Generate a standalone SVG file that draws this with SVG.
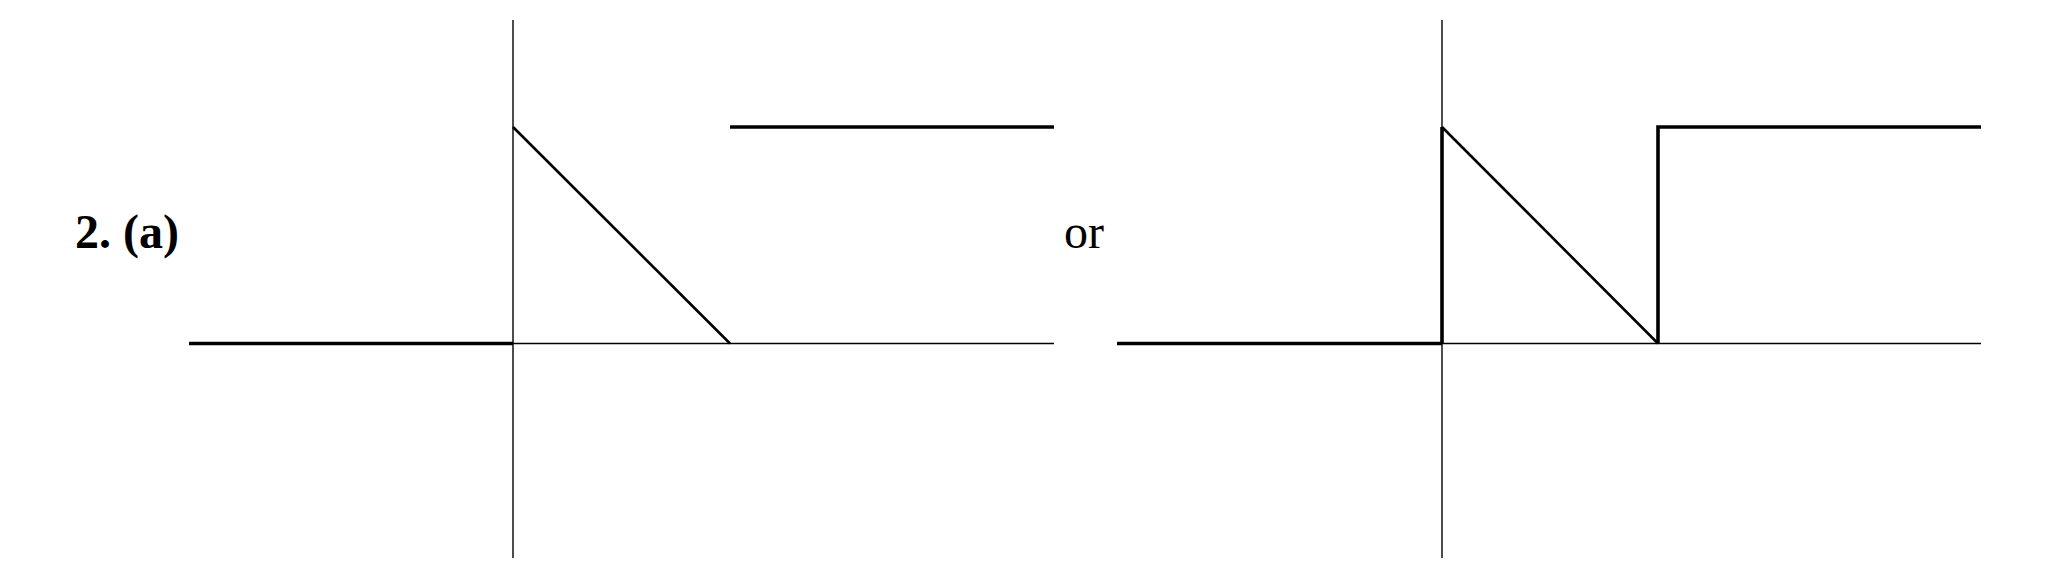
<svg xmlns="http://www.w3.org/2000/svg" width="2059" height="573" viewBox="0 0 2059 573">
<style>
.axis{stroke:#000;stroke-width:1.4;fill:none}
.thick{stroke:#000;stroke-width:3.6;fill:none;stroke-linecap:butt}
.diag{stroke:#000;stroke-width:2.6;fill:none}
.lbl{font-family:"Liberation Serif","Times New Roman",serif;font-size:48px;fill:#000}
</style>
<rect width="2059" height="573" fill="#fff"/>
<g id="label-2a"><text class="lbl" x="75" y="248" font-weight="bold">2. (a)</text></g>
<g id="label-or"><text class="lbl" x="1064" y="248">or</text></g>
<g id="plot1">
<line class="axis" x1="513" y1="20" x2="513" y2="558"/>
<line class="axis" x1="513" y1="343.5" x2="1054" y2="343.5"/>
<line class="thick" x1="189" y1="343.5" x2="513" y2="343.5"/>
<line class="diag" x1="513" y1="127" x2="730" y2="343.5"/>
<line class="thick" x1="730" y1="127" x2="1054" y2="127"/>
</g>
<g id="plot2">
<line class="axis" x1="1442" y1="20" x2="1442" y2="558"/>
<line class="axis" x1="1442" y1="343.5" x2="1981" y2="343.5"/>
<line class="thick" x1="1117" y1="343.5" x2="1442" y2="343.5"/>
<polyline class="thick" points="1442,343.5 1442,127"/>
<line class="diag" x1="1442" y1="127" x2="1658" y2="343.5"/>
<polyline class="thick" points="1658,343.5 1658,127 1981,127"/>
</g>
</svg>
